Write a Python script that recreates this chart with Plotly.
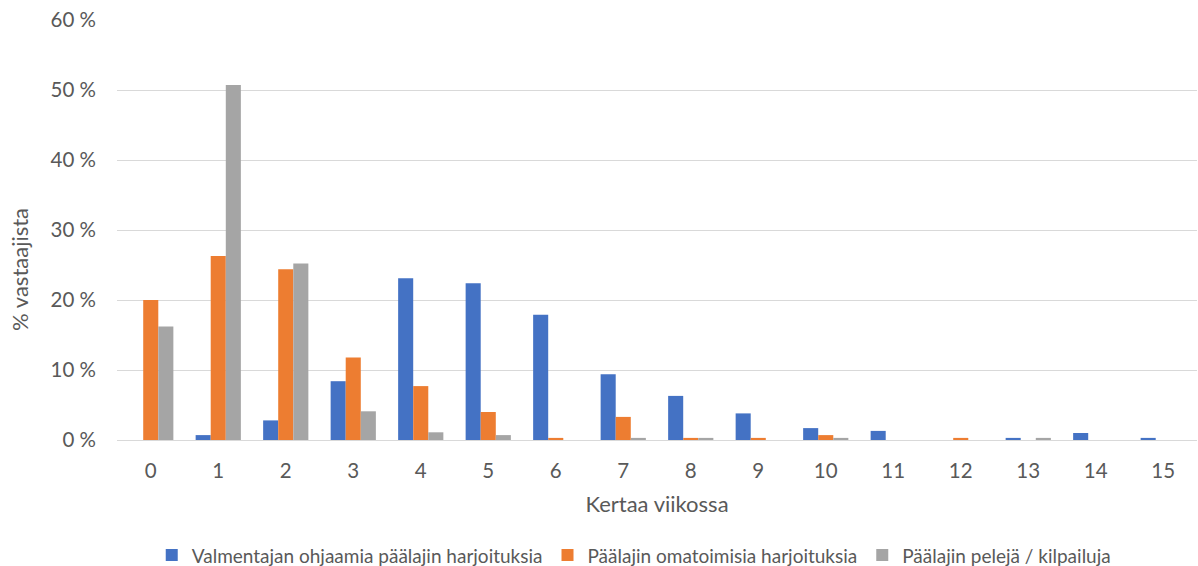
import plotly.graph_objects as go

categories = [str(i) for i in range(16)]
valmentaja = [0, 0.7, 2.8, 8.4, 23.1, 22.4, 17.9, 9.4, 6.3, 3.8, 1.7, 1.3, 0, 0.3, 1.0, 0.3]
omatoiminen = [20.0, 26.3, 24.4, 11.8, 7.7, 4.0, 0.3, 3.3, 0.3, 0.3, 0.7, 0, 0.3, 0, 0, 0]
pelit = [16.2, 50.7, 25.2, 4.1, 1.1, 0.7, 0, 0.3, 0.3, 0, 0.3, 0, 0, 0.3, 0, 0]

names = ["Valmentajan ohjaamia päälajin harjoituksia",
         "Päälajin omatoimisia harjoituksia",
         "Päälajin pelejä / kilpailuja"]
colors = ["#4472C4", "#ED7D31", "#A5A5A5"]

fig = go.Figure()
for name, vals, col in zip(names, [valmentaja, omatoiminen, pelit], colors):
    fig.add_trace(go.Bar(x=categories, y=vals, name=name, marker_color=col,
                         marker_line_width=0))

font = "Lato, 'Open Sans', sans-serif"
fig.update_layout(
    width=1198, height=566,
    margin=dict(l=117, r=1, t=20, b=126),
    paper_bgcolor="white", plot_bgcolor="white",
    barmode="group", bargap=0.33, bargroupgap=0,
    font=dict(family=font, color="#595959", size=19),
    legend=dict(orientation="h", xref="container", yref="container",
                x=0.529, xanchor="center", y=0.019, yanchor="middle",
                font=dict(size=19, color="#595959"), traceorder="normal",
                itemwidth=30),
    showlegend=True,
    annotations=[dict(text="% vastaajista", textangle=-90, showarrow=False,
                      xref="paper", yref="paper", x=-0.0898, y=0.405,
                      xanchor="center", yanchor="middle",
                      font=dict(size=22, color="#595959"))],
)
fig.update_xaxes(title=dict(text="Kertaa viikossa", font=dict(size=22), standoff=16),
                 showline=True, linecolor="#D9D9D9", linewidth=1, ticks="",
                 tickfont=dict(size=20.5), automargin=False, ticklabelstandoff=12)
fig.update_yaxes(range=[0, 60], dtick=10, ticksuffix=" %", showgrid=True,
                 gridcolor="#D9D9D9", gridwidth=1, zeroline=False, ticks="",
                 tickfont=dict(size=20.5), automargin=False, ticklabelstandoff=20)

fig.write_html("out.html", config={"displayModeBar": False},
               post_script="document.body.style.margin='0';document.body.style.overflow='hidden';")
